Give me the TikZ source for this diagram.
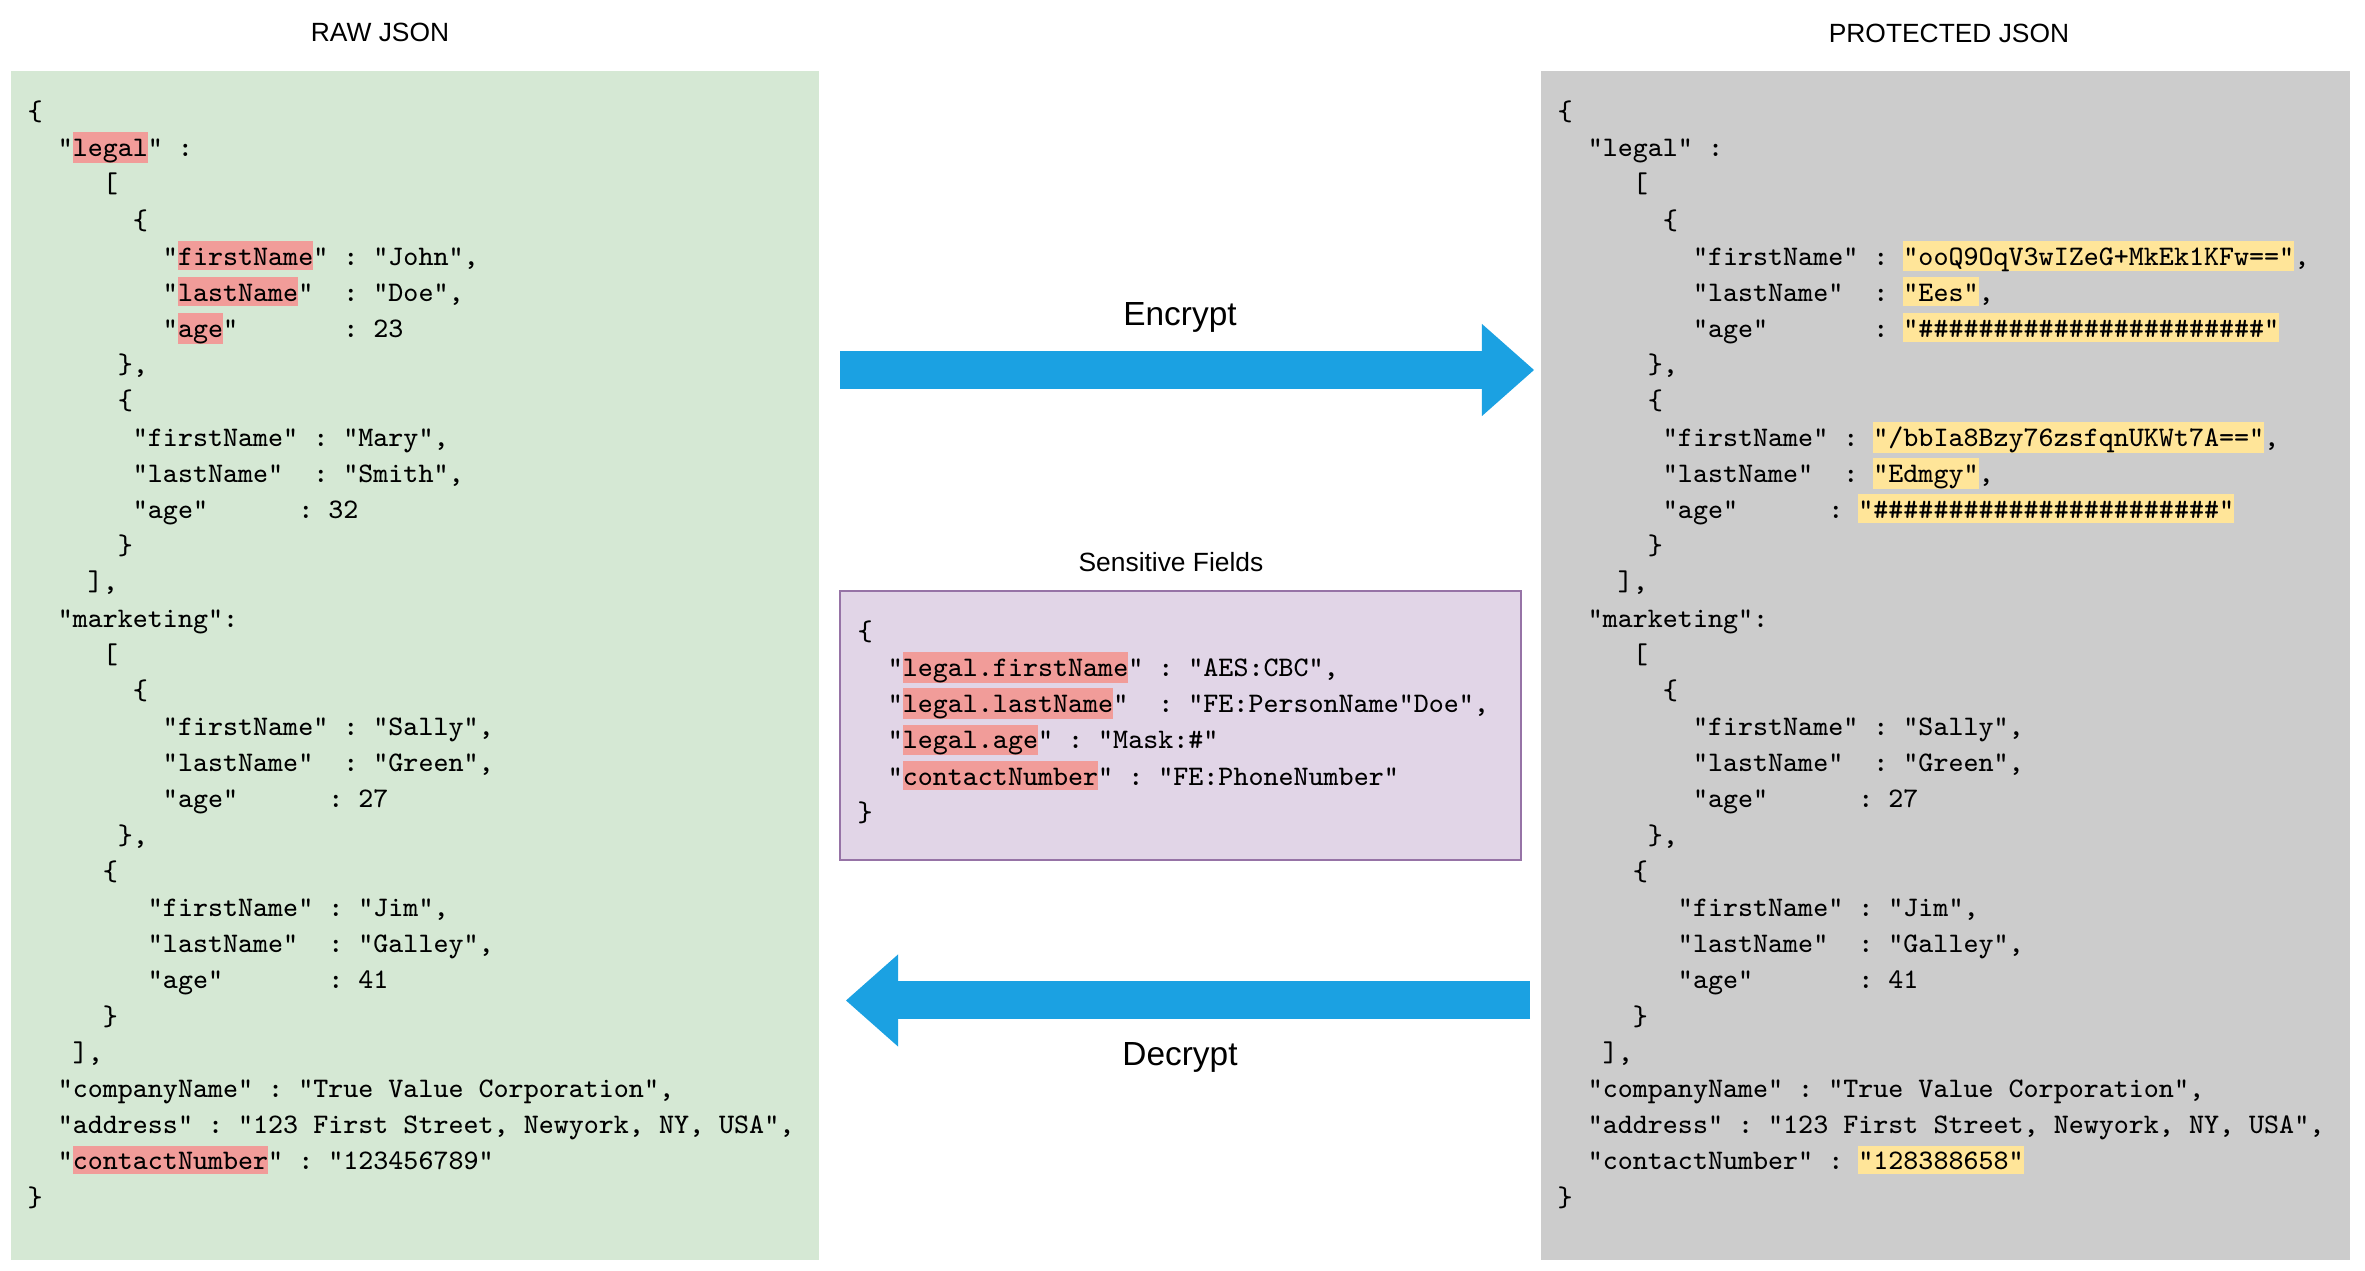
\documentclass[tikz,border=0pt]{standalone}
\usepackage{fontspec}
\setmainfont{Liberation Sans}
\usetikzlibrary{arrows.meta}
\definecolor{rawgreen}{HTML}{D5E8D4}
\definecolor{protgray}{HTML}{CCCCCC}
\definecolor{fieldlilac}{HTML}{E1D5E7}
\definecolor{fieldedge}{HTML}{9673A6}
\definecolor{keyred}{HTML}{F19C99}
\definecolor{valyellow}{HTML}{FFE599}
\definecolor{flowblue}{HTML}{1BA1E2}
\newcommand{\jstrut}{\rule[-1.3pt]{0pt}{8.2pt}}
\newcommand{\ind}[1]{\jstrut\hspace*{#1\fontcharwd\font`\a\relax}}
\newcommand{\hlkey}[1]{{\setlength{\fboxsep}{0pt}\colorbox{keyred}{\jstrut#1}}}
\newcommand{\hlval}[1]{{\setlength{\fboxsep}{0pt}\colorbox{valyellow}{\jstrut#1}}}
\tikzset{x=0.01cm, y=-0.01cm,
  json/.style={anchor=north west, inner sep=0pt, align=left,
    font=\fontsize{8.05pt}{10.29pt}\selectfont\ttfamily\frenchspacing},
  title/.style={font=\fontsize{7.5pt}{9pt}\selectfont},
  flowlabel/.style={font=\fontsize{9.5pt}{11pt}\selectfont},
  flow/.style={line width=0.38cm, draw=flowblue,
    -{Triangle[length=0.52cm, width=0.92cm, line width=0pt, fill=flowblue]}}}

\begin{document}
\begin{tikzpicture}
\useasboundingbox (0,0) rectangle (2365,1271);
\fill[rawgreen] (11,71) rectangle (819,1260);
\fill[protgray] (1541,71) rectangle (2350,1260);
\filldraw[fill=fieldlilac, draw=fieldedge, line width=0.6pt] (840,591) rectangle (1521,860);

\node[title] (rawtitle) at (380,32) {RAW JSON};
\node[title] (prottitle) at (1949,33) {PROTECTED JSON};
\node[title] (fieldtitle) at (1171,562) {Sensitive Fields};

\node[json] (raw) at (27,95.5) {\ind{0}\{\\
\ind{2}"\hlkey{legal}" :\\
\ind{5}[\\
\ind{7}\{\\
\ind{9}"\hlkey{firstName}" : "John",\\
\ind{9}"\hlkey{lastName}"~~: "Doe",\\
\ind{9}"\hlkey{age}"~~~~~~~: 23\\
\ind{6}\},\\
\ind{6}\{\\
\ind{7}"firstName" : "Mary",\\
\ind{7}"lastName"~~: "Smith",\\
\ind{7}"age"~~~~~~: 32\\
\ind{6}\}\\
\ind{4}],\\
\ind{2}"marketing":\\
\ind{5}[\\
\ind{7}\{\\
\ind{9}"firstName" : "Sally",\\
\ind{9}"lastName"~~: "Green",\\
\ind{9}"age"~~~~~~: 27\\
\ind{6}\},\\
\ind{5}\{\\
\ind{8}"firstName" : "Jim",\\
\ind{8}"lastName"~~: "Galley",\\
\ind{8}"age"~~~~~~~: 41\\
\ind{5}\}\\
\ind{3}],\\
\ind{2}"companyName" : "True Value Corporation",\\
\ind{2}"address" : "123 First Street, Newyork, NY, USA",\\
\ind{2}"\hlkey{contactNumber}" : "123456789"\\
\ind{0}\}};

\node[json] (prot) at (1557,95.5) {\ind{0}\{\\
\ind{2}"legal" :\\
\ind{5}[\\
\ind{7}\{\\
\ind{9}"firstName" : \hlval{"ooQ9OqV3wIZeG+MkEk1KFw=="},\\
\ind{9}"lastName"~~: \hlval{"Ees"},\\
\ind{9}"age"~~~~~~~: \hlval{"\#\#\#\#\#\#\#\#\#\#\#\#\#\#\#\#\#\#\#\#\#\#\#"}\\
\ind{6}\},\\
\ind{6}\{\\
\ind{7}"firstName" : \hlval{"/bbIa8Bzy76zsfqnUKWt7A=="},\\
\ind{7}"lastName"~~: \hlval{"Edmgy"},\\
\ind{7}"age"~~~~~~: \hlval{"\#\#\#\#\#\#\#\#\#\#\#\#\#\#\#\#\#\#\#\#\#\#\#"}\\
\ind{6}\}\\
\ind{4}],\\
\ind{2}"marketing":\\
\ind{5}[\\
\ind{7}\{\\
\ind{9}"firstName" : "Sally",\\
\ind{9}"lastName"~~: "Green",\\
\ind{9}"age"~~~~~~: 27\\
\ind{6}\},\\
\ind{5}\{\\
\ind{8}"firstName" : "Jim",\\
\ind{8}"lastName"~~: "Galley",\\
\ind{8}"age"~~~~~~~: 41\\
\ind{5}\}\\
\ind{3}],\\
\ind{2}"companyName" : "True Value Corporation",\\
\ind{2}"address" : "123 First Street, Newyork, NY, USA",\\
\ind{2}"contactNumber" : \hlval{"128388658"}\\
\ind{0}\}};

\node[json] (fields) at (857,615.4) {\ind{0}\{\\
\ind{2}"\hlkey{legal.firstName}" : "AES:CBC",\\
\ind{2}"\hlkey{legal.lastName}"~~: "FE:PersonName"Doe",\\
\ind{2}"\hlkey{legal.age}" : "Mask:\#"\\
\ind{2}"\hlkey{contactNumber}" : "FE:PhoneNumber"\\
\ind{0}\}};

\coordinate (encA) at (840,370);
\coordinate (encB) at (1534,370);
\coordinate (decA) at (1530,1000.5);
\coordinate (decB) at (846,1000.5);
\foreach \a/\b in {encA/encB, decA/decB}
  \draw[flow] (\a) -- (\b);
\node[flowlabel] (enclabel) at (1180,317) {Encrypt};
\node[flowlabel] (declabel) at (1180,1057) {Decrypt};
\end{tikzpicture}
\end{document}
